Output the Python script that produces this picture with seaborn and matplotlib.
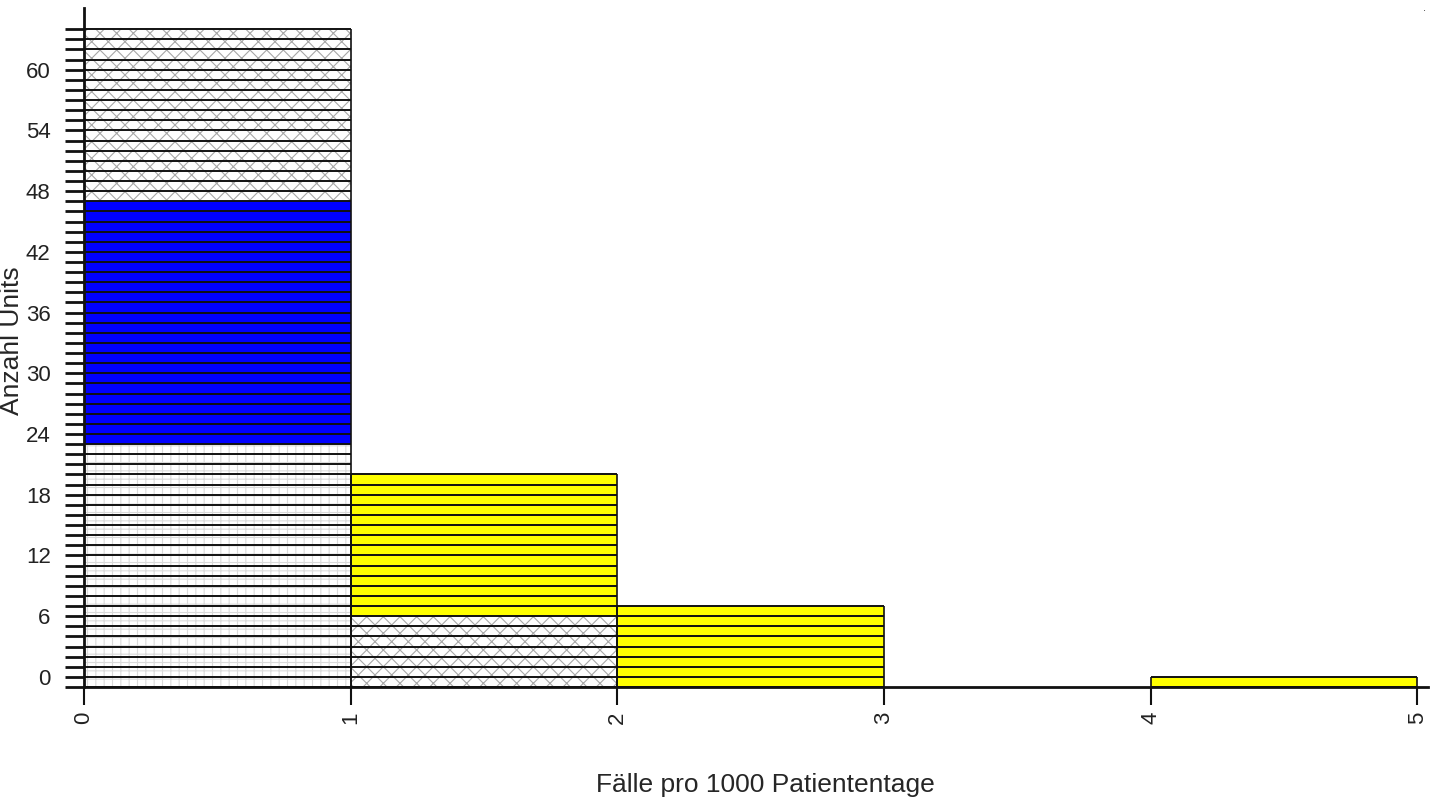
import matplotlib
matplotlib.use("Agg")
import matplotlib.pyplot as plt
import seaborn as sns
import numpy as np
import pandas as pd

# histogram bins (Fälle pro 1000 Patiententage)
bin_edges = [0, 1, 2, 3, 4, 5]
bin_centers = [0.5, 1.5, 2.5, 3.5, 4.5]

# units per bin, one list per group (stacked bottom -> top)
groups = ["Gruppe A", "Gruppe B", "Gruppe C", "Gruppe D"]
counts_a = [24, 0, 0, 0, 0]
counts_b = [24, 0, 0, 0, 0]
counts_c = [17, 7, 0, 0, 0]
counts_d = [0, 14, 8, 0, 1]

colors = {"Gruppe A": "#ffffff", "Gruppe B": "#0000ff",
          "Gruppe C": "#fefefe", "Gruppe D": "#ffff00"}
hatches = {"#ffffff": ("++", "#dadada"), "#fefefe": ("xx", "#a8a8a8")}

ytick_labels = [0, 6, 12, 18, 24, 30, 36, 42, 48, 54, 60]

rows = []
for g, cnts in zip(groups, [counts_a, counts_b, counts_c, counts_d]):
    for c, n in zip(bin_centers, cnts):
        rows += [(c, g)] * n
df = pd.DataFrame(rows, columns=["rate", "gruppe"])

sns.set_style("white")
plt.rcParams["font.family"] = ["Liberation Sans", "DejaVu Sans"]
plt.rcParams["hatch.linewidth"] = 0.8
plt.rcParams["text.color"] = "#222222"
plt.rcParams["xtick.labelcolor"] = "#222222"
plt.rcParams["ytick.labelcolor"] = "#222222"

fig = plt.figure(figsize=(14.38, 8), dpi=100)
ax = fig.add_axes([84 / 1438, 1 - 687 / 800, (1428 - 84) / 1438, (687 - 8) / 800])

sns.histplot(data=df, x="rate", hue="gruppe", hue_order=groups[::-1],
             bins=bin_edges, multiple="stack", palette=colors,
             alpha=1, linewidth=0, legend=False, ax=ax)

for p in ax.patches:
    fc = matplotlib.colors.to_hex(p.get_facecolor())
    if fc in hatches:
        h, hc = hatches[fc]
        p.set_hatch(h)
        p.set_edgecolor(hc)
        p.set_linewidth(0)

# one line per unit
totals = np.array(counts_a) + np.array(counts_b) + np.array(counts_c) + np.array(counts_d)
for i, t in enumerate(totals):
    if t == 0:
        continue
    ax.hlines(np.arange(0, t + 1), bin_edges[i], bin_edges[i + 1],
              color="#111111", lw=1.4, zorder=3)
    ax.vlines([bin_edges[i], bin_edges[i + 1]], 0, t, color="#111111", lw=1.2, zorder=3)

ax.set_xlim(0, 5.04)
ax.set_ylim(0, 67.1)

ax.set_xticks(bin_edges)
ax.set_xticklabels([str(b) for b in bin_edges], rotation=90, fontsize=16)
ax.set_yticks(np.array(ytick_labels) + 1)
ax.set_yticklabels([str(v) for v in ytick_labels], fontsize=16)
ax.set_yticks(np.arange(0, 66), minor=True)
ax.tick_params(axis="y", which="both", left=True, length=14, width=2, pad=10, color="#111111")
ax.tick_params(axis="x", bottom=True, length=13, width=1.5, pad=5, color="#111111")

for s in ["top", "right"]:
    ax.spines[s].set_visible(False)
for s in ["left", "bottom"]:
    ax.spines[s].set_linewidth(2)
    ax.spines[s].set_color("#111111")

ax.set_xlabel("Fälle pro 1000 Patiententage", fontsize=19)
ax.xaxis.set_label_coords(0.5067, -0.126)
ax.set_ylabel("Anzahl Units", fontsize=19)
ax.yaxis.set_label_coords(-0.0445, 0.51)

fig.text(1424 / 1438, 1 - 8 / 800, ".", fontsize=8, color="#333333", ha="center", va="center")

fig.savefig("out.png", dpi=100)
